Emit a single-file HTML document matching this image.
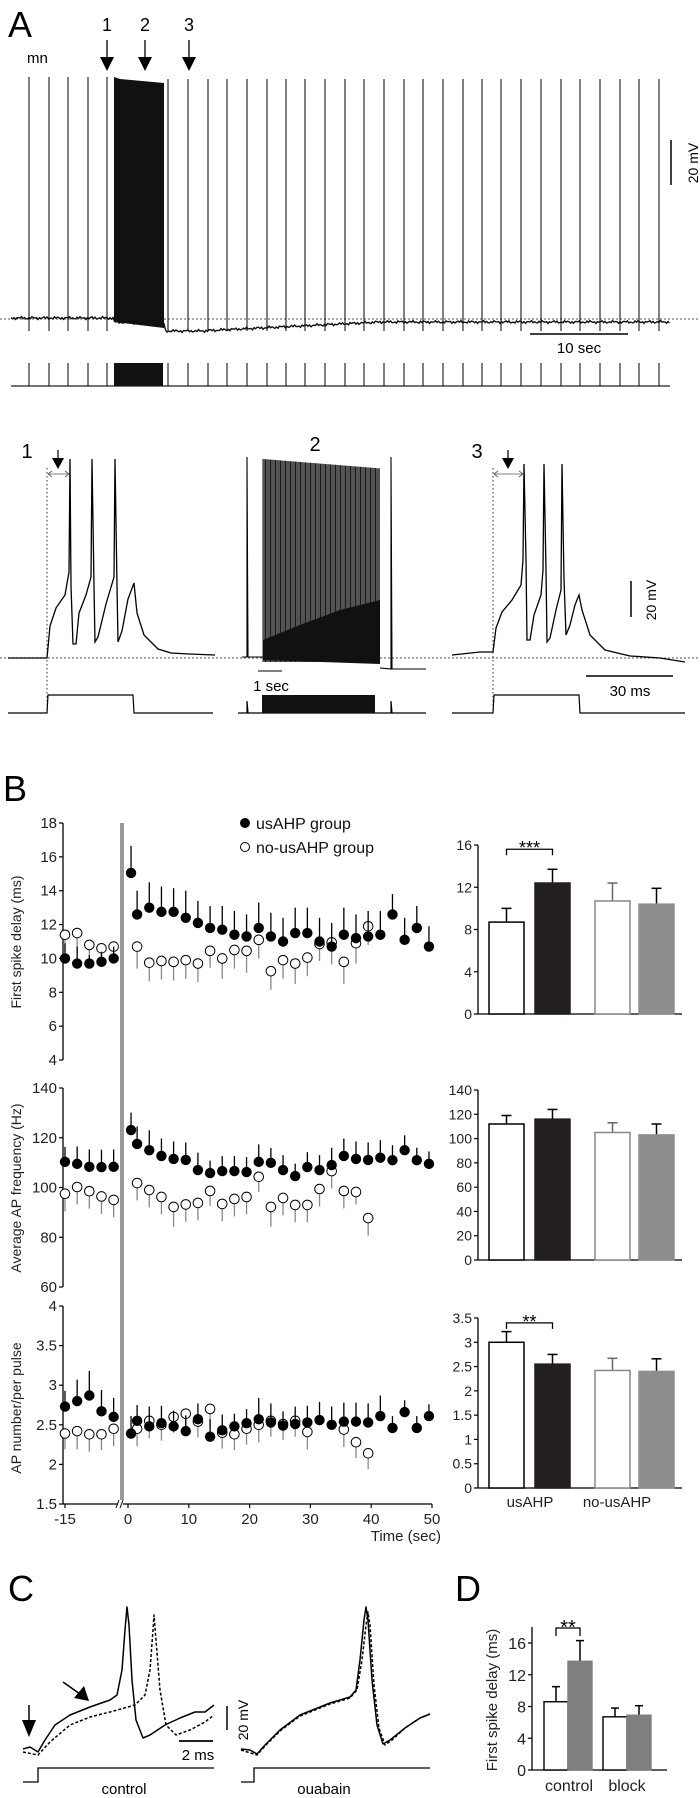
<!DOCTYPE html>
<html><head><meta charset="utf-8"><title>Figure</title>
<style>
html,body{margin:0;padding:0;background:#fff;}
svg{display:block;font-family:"Liberation Sans",Arial,sans-serif;}
</style></head>
<body>
<svg id="fig" width="700" height="1798" viewBox="0 0 700 1798" xmlns="http://www.w3.org/2000/svg"></svg>
<script>
// ---------- Panel B scatter data ----------
const preTimes = [-15,-13,-11,-9,-7];
const postTimes = [0.5,1.5,3.5,5.5,7.5,9.5,11.5,13.5,15.5,17.5,19.5,21.5,23.5,25.5,27.5,29.5,31.5,33.5,35.5,37.5,39.5,41.5,43.5,45.5,47.5,49.5];
const xTickLabels = [-15,0,10,20,30,40,50];

const delayPreFilled = [10.0,9.7,9.7,9.8,10.0];
const delayPreFilledErr = [0.9,1.0,0.5,0.6,0.7];
const delayPreOpen = [11.4,11.5,10.8,10.6,10.7];
const delayPreOpenErr = [1.0,1.2,0.8,0.8,0.9];
const delayPostFilled = [15.05,12.6,13.0,12.75,12.75,12.4,12.1,11.8,11.7,11.4,11.3,11.8,11.3,11.0,11.5,11.5,11.0,10.7,11.4,11.2,11.3,11.4,12.6,11.1,11.8,10.7];
const delayPostFilledErr = [1.6,1.4,1.5,1.5,1.4,1.6,1.3,1.3,1.4,1.4,1.3,1.5,1.4,1.4,1.5,1.5,1.4,1.4,1.6,1.4,1.5,1.4,1.2,1.3,1.3,1.2];
const delayPostOpen = [null,10.7,9.75,9.85,9.8,9.9,9.7,10.45,10.0,10.5,10.45,11.1,9.25,9.9,9.7,10.05,10.85,10.95,9.8,10.9,11.9,null,null,null,null,null];
const delayPostOpenErr = [0,1.3,1.1,1.1,1.1,1.1,1.1,1.0,1.2,1.1,1.3,1.1,1.1,1.1,1.2,1.1,1.0,1.3,1.3,1.2,1.1,0,0,0,0,0];
const delayTicks = [4,6,8,10,12,14,16,18];

const freqPreFilled = [110.3,109.5,108.3,108.2,108.3];
const freqPreFilledErr = [6,7,7,7,7];
const freqPreOpen = [97.5,100.2,98.5,96.4,95];
const freqPreOpenErr = [7,7,7,7,7];
const freqPostFilled = [123.1,117.5,115,112.7,111.5,111.1,107,105.8,106.6,106.6,106.2,110.3,109.9,107,104.6,108.2,107,109,112.7,111.5,111.1,112,111,115,111,109.5];
const freqPostFilledErr = [7,7,8,7,7,7,7,5,6,6,6,7,6,6,5,6,6,7,7,7,7,7,6,6,5,5];
const freqPostOpen = [null,101.8,99,96.2,92.2,93.2,93.8,98.6,93.4,95.4,96.2,104.3,92.2,95.8,93,93,99.4,106.6,98.6,98.2,87.7,null,null,null,null,null];
const freqPostOpenErr = [0,7,7,7,8,7,7,6,7,7,7,6,8,7,7,7,7,7,7,5,7,0,0,0,0,0];
const freqTicks = [60,80,100,120,140];

const apPreFilled = [2.73,2.80,2.87,2.67,2.60];
const apPreFilledErr = [0.2,0.27,0.31,0.27,0.24];
const apPreOpen = [2.39,2.42,2.38,2.38,2.45];
const apPreOpenErr = [0.2,0.23,0.22,0.2,0.22];
const apPostFilled = [2.39,2.55,2.48,2.52,2.48,2.42,2.57,2.35,2.43,2.48,2.52,2.57,2.53,2.49,2.51,2.53,2.56,2.50,2.54,2.54,2.53,2.61,2.46,2.66,2.46,2.61];
const apPostFilledErr = [0.22,0.2,0.25,0.22,0.2,0.2,0.2,0.22,0.2,0.16,0.18,0.27,0.24,0.18,0.22,0.21,0.23,0.23,0.24,0.24,0.24,0.26,0.15,0.15,0.15,0.15];
const apPostOpen = [null,2.45,2.55,2.5,2.6,2.64,2.54,2.7,2.4,2.38,2.45,2.5,2.55,2.51,2.55,2.41,null,null,2.44,2.28,2.14,null,null,null,null,null];
const apPostOpenErr = [0,0.22,0.22,0.2,0.2,0.22,0.2,0.24,0.2,0.2,0.2,0.22,0.2,0.2,0.2,0.22,0,0,0.22,0.2,0.2,0,0,0,0,0];
const apTicks = [1.5,2,2.5,3,3.5,4];

// ---------- Panel B bar data ----------
const barGroups = ["usAHP","no-usAHP"];
const barDelay = [8.7,12.4,10.7,10.4];
const barDelayErr = [1.3,1.3,1.7,1.5];
const barFreq = [112,116,105,103];
const barFreqErr = [7,8,8,9];
const barAp = [3.0,2.55,2.42,2.40];
const barApErr = [0.22,0.2,0.25,0.26];
const barDelayTicks = [0,4,8,12,16];
const barFreqTicks = [0,20,40,60,80,100,120,140];
const barApTicks = ["0","0.5","1","1.5","2","2.5","3","3.5"];

// ---------- Panel D data ----------
const dCategories = ["control","block"];
const dValues = [8.6,13.7,6.7,6.9];
const dErr = [1.9,2.6,1.1,1.2];
const dTicks = [0,4,8,12,16];

const NS="http://www.w3.org/2000/svg";
const svg=document.getElementById('fig');
function mk(tag,attrs,parent){const e=document.createElementNS(NS,tag);for(const k in attrs)e.setAttribute(k,attrs[k]);(parent||svg).appendChild(e);return e;}
function txt(s,attrs,parent){const e=mk('text',attrs,parent);e.textContent=s;return e;}
function pts(a){return a.map(p=>p[0]+','+p[1]).join(' ');}

// ================= PANEL A =================
let g,e;
e=txt('A',{x:8,y:37,'font-size':36});


e=txt('mn',{x:27,y:63,'font-size':15});


const markerX=[107,145,189];
['1','2','3'].forEach((s,i)=>{
  let t=txt(s,{x:markerX[i],y:31,'font-size':18,'text-anchor':'middle'});
  
  
  let l=mk('line',{x1:markerX[i],y1:40,x2:markerX[i],y2:60,stroke:'#000','stroke-width':1.3});
  
  
  let p=mk('polygon',{points:pts([[markerX[i]-7,57],[markerX[i]+7,57],[markerX[i],71]]),fill:'#000'});
  
  
});
e=mk('line',{x1:0,y1:319,x2:700,y2:319,stroke:'#777','stroke-width':1.2,'stroke-dasharray':'2,2'});


const spikeX=[29,49,68,88,107,168,188,208,227,247,267,286,305,325,345,364,384,404,423,443,463,482,501,521,541,561,580,600,620,639,659];
let bl=[];
for(let x=11;x<=670;x+=1.5){
  let y;
  if(x<114)y=318;else if(x<165)y=322+(x-114)*0.03;else if(x<200)y=331;else y=331-Math.min(9,(x-200)*0.05);
  y+=Math.sin(x*1.7)*0.9+Math.sin(x*0.53)*0.6;
  bl.push([x.toFixed(1),y.toFixed(1)]);
}
e=mk('polyline',{points:pts(bl),fill:'none',stroke:'#111','stroke-width':1.4});


spikeX.forEach((x,i)=>{
  let top=x>165?79:77;
  let s=mk('line',{x1:x,y1:top,x2:x,y2:331,stroke:'#000','stroke-width':1});
  
  
});
e=mk('polygon',{points:pts([[114,77],[120,79],[164,83],[164,328],[114,322]]),fill:'#111'});


e=mk('line',{x1:671,y1:140,x2:671,y2:185,stroke:'#000','stroke-width':1.5});


e=txt('20 mV',{x:0,y:0,'font-size':14,'text-anchor':'middle',transform:'translate(698,163) rotate(-90)'});


e=mk('line',{x1:530,y1:334,x2:628,y2:334,stroke:'#000','stroke-width':1.5});


e=txt('10 sec',{x:579,y:353,'font-size':15,'text-anchor':'middle'});


e=mk('line',{x1:11,y1:386,x2:670,y2:386,stroke:'#222','stroke-width':1.3});


spikeX.forEach(x=>{
  let s=mk('line',{x1:x,y1:363,x2:x,y2:386,stroke:'#000','stroke-width':1});
  
  
});
e=mk('rect',{x:114,y:363,width:49,height:23,fill:'#111'});



[['1',27,458],['2',315,451],['3',477,458]].forEach(a=>{
  let t=txt(a[0],{x:a[1],y:a[2],'font-size':20,'text-anchor':'middle'});
  
  
});
e=mk('line',{x1:0,y1:658,x2:700,y2:658,stroke:'#777','stroke-width':1.2,'stroke-dasharray':'2,2'});


[47,493].forEach((x,i)=>{
  let l=mk('line',{x1:x,y1:468,x2:x,y2:716,stroke:'#333','stroke-width':1,'stroke-dasharray':'1.5,2.5'});
  
  
});
const tr1=[[8,658],[47,658],[50,626],[56,608],[65,595],[69,572],[70,459],[71,586],[73,644],[76,644],[79,613],[86,595],[91,577],[92,459],[94,586],[95,642],[98,637],[106,604],[114,577],[115,459],[117,586],[118,642],[122,631],[128,599],[134,583],[137,613],[144,635],[158,649],[171,653],[189,654],[215,655]];
e=mk('polyline',{points:pts(tr1),fill:'none',stroke:'#000','stroke-width':1.3});


const tr3=[[452,655],[480,652],[493,652],[496,628],[502,612],[512,600],[521,585],[523,560],[524,464],[526,560],[527,640],[530,640],[534,615],[541,595],[543,570],[544,464],[546,570],[547,642],[550,638],[556,610],[561,590],[562,464],[564,580],[566,635],[570,625],[575,605],[579,595],[582,610],[590,635],[605,650],[630,656],[660,658],[685,662]];
e=mk('polyline',{points:pts(tr3),fill:'none',stroke:'#000','stroke-width':1.3});


e=mk('polyline',{points:pts([[242,657],[247,657],[247,457],[248,657],[263,657]]),fill:'none',stroke:'#000','stroke-width':1.1});


g=mk('g',{});


for(let x=263;x<=380;x+=1.25){
  let top=459+(x-263)*0.08;
  mk('line',{x1:x.toFixed(2),y1:top.toFixed(1),x2:x.toFixed(2),y2:662,stroke:'#1a1a1a','stroke-width':1},g);
}
mk('polygon',{points:pts([[263,640],[300,625],[340,610],[380,600],[380,664],[263,660]]),fill:'#111'},g);
e=mk('polyline',{points:pts([[380,668],[391,669],[391,457],[392,669],[426,669]]),fill:'none',stroke:'#000','stroke-width':1.1});


[[47,70,58],[493,524,508]].forEach((a,i)=>{
  let l=mk('line',{x1:a[0]+1,y1:474,x2:a[1]-1,y2:474,stroke:'#555','stroke-width':0.8});
  
  
  let h1=mk('polyline',{points:pts([[a[0]+5,471],[a[0]+1,474],[a[0]+5,477]]),fill:'none',stroke:'#555','stroke-width':0.8});
  
  
  let h2=mk('polyline',{points:pts([[a[1]-5,471],[a[1]-1,474],[a[1]-5,477]]),fill:'none',stroke:'#555','stroke-width':0.8});
  
  
  let d=mk('line',{x1:a[2],y1:450,x2:a[2],y2:460,stroke:'#000','stroke-width':1.2});
  
  
  let p=mk('polygon',{points:pts([[a[2]-6,458],[a[2]+6,458],[a[2],469]]),fill:'#000'});
  
  
});
e=mk('line',{x1:631,y1:581,x2:631,y2:617,stroke:'#000','stroke-width':1.5});


e=txt('20 mV',{x:0,y:0,'font-size':14,'text-anchor':'middle',transform:'translate(656,600) rotate(-90)'});


e=mk('line',{x1:586,y1:676,x2:673,y2:676,stroke:'#000','stroke-width':1.5});


e=txt('30 ms',{x:630,y:696,'font-size':15,'text-anchor':'middle'});


e=mk('line',{x1:258,y1:671,x2:282,y2:671,stroke:'#000','stroke-width':1});


e=txt('1 sec',{x:271,y:691,'font-size':15,'text-anchor':'middle'});


e=mk('polyline',{points:pts([[8,713],[47,713],[48,695],[133,695],[134,713],[213,713]]),fill:'none',stroke:'#000','stroke-width':1.2});


e=mk('polyline',{points:pts([[238,713],[247,713],[247,701],[248,713],[391,713],[391,701],[392,713],[426,713]]),fill:'none',stroke:'#000','stroke-width':1.2});


e=mk('rect',{x:262,y:695,width:113,height:18,fill:'#111'});


e=mk('polyline',{points:pts([[452,713],[493,713],[494,695],[579,695],[580,713],[685,713]]),fill:'none',stroke:'#000','stroke-width':1.2});



// ================= PANEL B =================
e=txt('B',{x:3,y:801,'font-size':36});


const xPre=t=>65+(t+15)*6.08;
const xPost=t=>128+t*6.08;
const yDelay=v=>823+(18-v)*16.93;
const yFreq=v=>1088+(140-v)*(199/80);
const yAp=v=>1306+(4-v)*79.2;
const AX=63;

function yAxis(name,ticks,ys,label,labelY){
  const gg=mk('g',{});
  
  
  mk('line',{x1:AX,y1:ys(ticks[ticks.length-1]),x2:AX,y2:ys(ticks[0]),stroke:'#000','stroke-width':1.3},gg);
  ticks.forEach(t=>{
    const tk=mk('line',{x1:AX-4,y1:ys(t),x2:AX,y2:ys(t),stroke:'#000','stroke-width':1.2},gg);
    
    const tl=txt(String(t),{x:AX-6,y:ys(t)+5,'font-size':15,'text-anchor':'end',fill:'#222'},gg);
    
    
  });
  const yl=txt(label,{x:0,y:0,'font-size':14,'text-anchor':'middle',fill:'#222',transform:'translate(21,'+labelY+') rotate(-90)'},gg);
  
  
}
yAxis('delay-y-axis',delayTicks,yDelay,'First spike delay (ms)',942);
yAxis('frequency-y-axis',freqTicks,yFreq,'Average AP frequency (Hz)',1188);
yAxis('ap-number-y-axis',apTicks,yAp,'AP number/per pulse',1408);

e=mk('rect',{x:120,y:823,width:4,height:677,fill:'#999'});



g=mk('g',{});


mk('line',{x1:AX,y1:1504,x2:118,y2:1504,stroke:'#000','stroke-width':1.3},g);
mk('line',{x1:123,y1:1504,x2:432,y2:1504,stroke:'#000','stroke-width':1.3},g);
mk('line',{x1:116,y1:1508,x2:119,y2:1500,stroke:'#000','stroke-width':1},g);
mk('line',{x1:120,y1:1508,x2:123,y2:1500,stroke:'#000','stroke-width':1},g);
xTickLabels.forEach(t=>{
  const x=t<0?xPre(t):xPost(t);
  mk('line',{x1:x,y1:1504,x2:x,y2:1508,stroke:'#000','stroke-width':1.2},g);
  const tl=txt(String(t),{x:x,y:1524,'font-size':15,'text-anchor':'middle',fill:'#222'},g);
  
  
});
e=txt('Time (sec)',{x:441,y:1541,'font-size':15,'text-anchor':'end',fill:'#222'});



e=mk('circle',{cx:245,cy:823,r:5,fill:'#000'});


e=txt('usAHP group',{x:256,y:829,'font-size':16,fill:'#111'});


e=mk('circle',{cx:245,cy:847,r:4.5,fill:'#fff',stroke:'#000','stroke-width':1});


e=txt('no-usAHP group',{x:256,y:853,'font-size':16,fill:'#111'});



function series(name,times,xf,vals,errs,yf,filled){
  const gg=mk('g',{});
  
  
  times.forEach((t,i)=>{
    const v=vals[i]; if(v===null||v===undefined)return;
    const x=xf(t), y=yf(v);
    const ey=filled?yf(v+errs[i]):yf(v-errs[i]);
    const eb=mk('line',{x1:x,y1:y,x2:x,y2:ey,stroke:filled?'#000':'#888','stroke-width':1.3},gg);
    
    
    const c=mk('circle',{cx:x,cy:y,r:filled?5.2:4.8,fill:filled?'#000':'#fff',stroke:filled?'none':'#000','stroke-width':1},gg);
    
    
  });
}
series('delay-no-usahp-pre',preTimes,xPre,delayPreOpen,delayPreOpenErr,yDelay,false);
series('delay-no-usahp-post',postTimes,xPost,delayPostOpen,delayPostOpenErr,yDelay,false);
series('delay-usahp-pre',preTimes,xPre,delayPreFilled,delayPreFilledErr,yDelay,true);
series('delay-usahp-post',postTimes,xPost,delayPostFilled,delayPostFilledErr,yDelay,true);
series('freq-no-usahp-pre',preTimes,xPre,freqPreOpen,freqPreOpenErr,yFreq,false);
series('freq-no-usahp-post',postTimes,xPost,freqPostOpen,freqPostOpenErr,yFreq,false);
series('freq-usahp-pre',preTimes,xPre,freqPreFilled,freqPreFilledErr,yFreq,true);
series('freq-usahp-post',postTimes,xPost,freqPostFilled,freqPostFilledErr,yFreq,true);
series('ap-no-usahp-pre',preTimes,xPre,apPreOpen,apPreOpenErr,yAp,false);
series('ap-no-usahp-post',postTimes,xPost,apPostOpen,apPostOpenErr,yAp,false);
series('ap-usahp-pre',preTimes,xPre,apPreFilled,apPreFilledErr,yAp,true);
series('ap-usahp-post',postTimes,xPost,apPostFilled,apPostFilledErr,yAp,true);

const BX=478, barXs=[489,535,595,639], BW=35;
const barFill=['#fff','#231f20','#fff','#8d8d90'];
const barStroke=['#000','#231f20','#888','#8d8d90'];
function barChart(name,vals,errs,ticks,tickLabels,y0,yTop,vmax,sig,sigLevel){
  const ys=v=>y0-(v/vmax)*(y0-yTop);
  const gg=mk('g',{});
  
  
  mk('line',{x1:BX,y1:yTop,x2:BX,y2:y0,stroke:'#000','stroke-width':1.3},gg);
  mk('line',{x1:BX,y1:y0,x2:682,y2:y0,stroke:'#000','stroke-width':1.3},gg);
  ticks.forEach((t,i)=>{
    mk('line',{x1:BX-4,y1:ys(t),x2:BX,y2:ys(t),stroke:'#000','stroke-width':1.2},gg);
    const tl=txt(tickLabels[i],{x:BX-6,y:ys(t)+5,'font-size':14,'text-anchor':'end',fill:'#222'},gg);
    
    
  });
  vals.forEach((v,i)=>{
    const x=barXs[i], cx=x+BW/2;
    const eb=mk('line',{x1:cx,y1:ys(v),x2:cx,y2:ys(v+errs[i]),stroke:i==2?'#666':'#000','stroke-width':1.5},gg);
    
    
    const cap=mk('line',{x1:cx-5,y1:ys(v+errs[i]),x2:cx+5,y2:ys(v+errs[i]),stroke:i==2?'#666':'#000','stroke-width':1.5},gg);
    
    
    const r=mk('rect',{x:x,y:ys(v),width:BW,height:y0-ys(v),fill:barFill[i],stroke:barStroke[i],'stroke-width':1.5},gg);
    
    
  });
  if(sig){
    const by=ys(sigLevel), x1=barXs[0]+BW/2, x2=barXs[1]+BW/2;
    const br=mk('polyline',{points:pts([[x1,by+6],[x1,by],[x2,by],[x2,by+6]]),fill:'none',stroke:'#000','stroke-width':1.3},gg);
    
    
    const st=txt(sig,{x:(x1+x2)/2,y:by+5,'font-size':18,'text-anchor':'middle'},gg);
    
    
  }
}
barChart('bar-chart-delay',barDelay,barDelayErr,barDelayTicks,barDelayTicks.map(String),1014,845,16,'***',15.6);
barChart('bar-chart-frequency',barFreq,barFreqErr,barFreqTicks,barFreqTicks.map(String),1260,1090,140,null,0);
barChart('bar-chart-ap-number',barAp,barApErr,barApTicks.map(Number),barApTicks,1488,1318,3.5,'**',3.4);
barGroups.forEach((s,i)=>{
  const t=txt(s,{x:[530,617][i],y:1507,'font-size':15,'text-anchor':'middle',fill:'#222'});
  
  
});

// ================= PANEL C =================
e=txt('C',{x:8,y:1601,'font-size':36});


const cSolid=[[23,1749],[30,1747],[38,1752],[45,1740],[55,1725],[70,1715],[90,1707],[110,1700],[117,1695],[122,1670],[125,1630],[127,1607],[129,1625],[132,1680],[136,1720],[143,1738],[150,1735],[165,1725],[180,1718],[195,1712],[205,1712],[214,1705]];
const cDash=[[23,1752],[38,1755],[50,1742],[70,1725],[90,1717],[110,1712],[135,1705],[145,1695],[150,1670],[153,1630],[154,1615],[156,1640],[160,1690],[166,1725],[176,1735],[190,1730],[205,1722],[214,1715]];
const oSolid=[[241,1749],[250,1750],[257,1754],[265,1745],[280,1730],[300,1715],[330,1703],[350,1697],[356,1690],[360,1660],[364,1620],[366,1607],[368,1620],[372,1680],[377,1725],[383,1744],[390,1740],[405,1728],[420,1718],[430,1714]];
const oDash=[[241,1750],[257,1755],[265,1746],[280,1731],[300,1716],[330,1704],[350,1698],[357,1690],[362,1660],[366,1625],[368,1612],[370,1625],[374,1685],[379,1728],[385,1745],[392,1740],[405,1728],[420,1718],[430,1714]];
[[cSolid,'control-trace-solid',null],[cDash,'control-trace-dashed','3,2'],[oSolid,'ouabain-trace-solid',null],[oDash,'ouabain-trace-dashed','3,2']].forEach(a=>{
  const attrs={points:pts(a[0]),fill:'none',stroke:'#000','stroke-width':1.5,'stroke-linejoin':'round'};
  if(a[2])attrs['stroke-dasharray']=a[2];
  const p=mk('polyline',attrs);
  
  
});
e=mk('polyline',{points:pts([[23,1782],[38,1782],[38,1768],[214,1768]]),fill:'none',stroke:'#000','stroke-width':1.3});


e=mk('polyline',{points:pts([[241,1782],[254,1782],[254,1768],[430,1768]]),fill:'none',stroke:'#000','stroke-width':1.3});


e=txt('control',{x:124,y:1794,'font-size':15,'text-anchor':'middle'});


e=txt('ouabain',{x:324,y:1794,'font-size':15,'text-anchor':'middle'});


e=mk('line',{x1:29,y1:1705,x2:29,y2:1724,stroke:'#000','stroke-width':1.5});


e=mk('polygon',{points:pts([[22,1720],[36,1720],[29,1737]]),fill:'#000'});


e=mk('line',{x1:63,y1:1682,x2:80,y2:1694,stroke:'#000','stroke-width':1.5});


e=mk('polygon',{points:pts([[74,1698],[84,1686],[89,1701]]),fill:'#000'});


e=mk('line',{x1:227,y1:1706,x2:227,y2:1730,stroke:'#000','stroke-width':1.5});


e=txt('20 mV',{x:0,y:0,'font-size':14,'text-anchor':'middle',transform:'translate(248,1720) rotate(-90)'});


e=mk('line',{x1:179,y1:1741,x2:213,y2:1741,stroke:'#000','stroke-width':1.8});


e=txt('2 ms',{x:198,y:1760,'font-size':15,'text-anchor':'middle'});



// ================= PANEL D =================
e=txt('D',{x:455,y:1601,'font-size':36});


const DX=532, D0=1770, DTOP=1627;
const yD=v=>D0-(v/16)*(D0-1643);
const dBarX=[544,568,603,627], DW=24;
const dFill=['#fff','#7f7f82','#fff','#7f7f82'];
const dStroke=['#000','#7f7f82','#000','#7f7f82'];
g=mk('g',{});


mk('line',{x1:DX,y1:DTOP,x2:DX,y2:D0,stroke:'#000','stroke-width':1.3},g);
mk('line',{x1:DX,y1:D0,x2:667,y2:D0,stroke:'#000','stroke-width':1.3},g);
dTicks.forEach(t=>{
  mk('line',{x1:DX-4,y1:yD(t),x2:DX,y2:yD(t),stroke:'#000','stroke-width':1.2},g);
  const tl=txt(String(t),{x:DX-6,y:yD(t)+6,'font-size':16,'text-anchor':'end',fill:'#222'},g);
  
  
});
dValues.forEach((v,i)=>{
  const x=dBarX[i], cx=x+DW/2;
  const eb=mk('line',{x1:cx,y1:yD(v),x2:cx,y2:yD(v+dErr[i]),stroke:'#000','stroke-width':1.5},g);
  
  
  const cap=mk('line',{x1:cx-4,y1:yD(v+dErr[i]),x2:cx+4,y2:yD(v+dErr[i]),stroke:'#000','stroke-width':1.5},g);
  
  
  const r=mk('rect',{x:x,y:yD(v),width:DW,height:D0-yD(v),fill:dFill[i],stroke:dStroke[i],'stroke-width':1.4},g);
  
  
});
e=mk('polyline',{points:pts([[556,1636],[556,1628],[580,1628],[580,1636]]),fill:'none',stroke:'#000','stroke-width':1.3});


e=txt('**',{x:568,y:1634,'font-size':20,'text-anchor':'middle'});


dCategories.forEach((s,i)=>{
  const t=txt(s,{x:[569,627][i],y:1791,'font-size':16,'text-anchor':'middle',fill:'#222'});
  
  
});
e=txt('First spike delay (ms)',{x:0,y:0,'font-size':15,'text-anchor':'middle',fill:'#222',transform:'translate(497,1700) rotate(-90)'});


</script>
</body></html>
